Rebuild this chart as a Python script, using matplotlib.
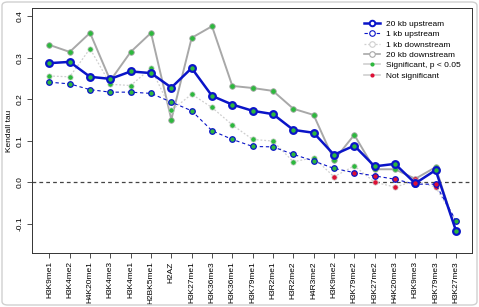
import matplotlib
matplotlib.use("Agg")
import matplotlib.pyplot as plt
from matplotlib.lines import Line2D
from matplotlib.patches import FancyBboxPatch
import numpy as np

plt.rcParams['font.family'] = ['Liberation Sans', 'DejaVu Sans']

categories = ["H3K9me1", "H3K4me2", "H4K20me1", "H3K4me3", "H3K4me1", "H2BK5me1",
              "H2AZ", "H3K27me1", "H3K36me3", "H3K36me1", "H3K79me1", "H3R2me1",
              "H3R2me2", "H4R3me2", "H3K9me2", "H3K79me2", "H3K27me2", "H4K20me3",
              "H3K9me3", "H3K79me3", "H3K27me3"]

up20 = [0.287, 0.290, 0.254, 0.249, 0.267, 0.263, 0.228, 0.275, 0.208, 0.187, 0.172,
        0.164, 0.126, 0.119, 0.066, 0.088, 0.038, 0.044, -0.003, 0.029, -0.117]
up1 = [0.241, 0.237, 0.223, 0.217, 0.217, 0.214, 0.193, 0.172, 0.124, 0.103, 0.086,
       0.085, 0.067, 0.051, 0.033, 0.023, 0.015, 0.007, -0.005, -0.005, -0.093]
down1 = [0.256, 0.254, 0.322, 0.236, 0.233, 0.275, 0.173, 0.212, 0.180, 0.138, 0.103,
         0.099, 0.049, 0.059, 0.013, 0.039, 0.000, -0.012, 0.003, -0.012, -0.093]
down20 = [0.331, 0.314, 0.360, 0.245, 0.314, 0.360, 0.151, 0.348, 0.376, 0.232, 0.227,
          0.220, 0.177, 0.162, 0.053, 0.114, 0.031, 0.031, 0.008, 0.036, -0.117]

sig_up20 = [1]*18 + [0, 1, 1]
sig_up1 = [1]*15 + [0, 0, 0, 0, 0, 1]
sig_down1 = [1]*14 + [0, 1, 0, 0, 0, 0, 1]
sig_down20 = [1]*18 + [0, 1, 1]

GREEN = '#2DB83D'
RED = '#DD1035'
BLUE = '#0A14C8'
GREY = '#A8A8A8'
LGREY = '#CFCFCF'

fig = plt.figure(figsize=(4.79, 3.07), dpi=100)
ax = fig.add_axes([32.3/479, 1-253/307, (472-32.3)/479, (253-8)/307])

x = np.arange(len(categories))

def draw(vals, sig, color, lw, ls, mec, ms, mew, z):
    ax.plot(x, vals, color=color, lw=lw, ls=ls, zorder=z)
    fc = [GREEN if s else RED for s in sig]
    for xi, v, f in zip(x, vals, fc):
        ax.plot(xi, v, 'o', ms=ms, mfc=f, mec=mec, mew=mew, zorder=z + 0.5)

draw(down20, sig_down20, GREY, 1.4, '-', GREY, 4.0, 0.6, 2)
draw(down1, sig_down1, LGREY, 0.9, (0, (1.5, 1.5)), LGREY, 3.8, 0.5, 3)
draw(up1, sig_up1, BLUE, 0.8, (0, (3, 2.5)), BLUE, 4.0, 0.9, 4)
draw(up20, sig_up20, BLUE, 1.8, '-', BLUE, 4.8, 1.6, 5)

ax.axhline(0, color='#444444', lw=0.9, ls=(0, (3, 2.5)), zorder=1)

ax.set_xlim(-0.84, 20.79)
ax.set_ylim(-0.171, 0.420)
ax.set_yticks([-0.1, 0.0, 0.1, 0.2, 0.3, 0.4])
ax.set_yticklabels(["-0.1", "0.0", "0.1", "0.2", "0.3", "0.4"], rotation=90, va='center')
ax.set_xticks(x)
ax.set_xticklabels(categories, rotation=90)
ax.tick_params(axis='both', labelsize=6, length=3.5, width=0.6, color='#333333', pad=2.5)
ax.set_ylabel("Kendall tau", fontsize=6, labelpad=3)
for s in ax.spines.values():
    s.set_linewidth(0.7)
    s.set_color('#333333')

handles = [
    Line2D([], [], color=BLUE, lw=1.8, marker='o', ms=4, mfc='white', mec=BLUE, mew=1.4),
    Line2D([], [], color=BLUE, lw=0.8, ls=(0, (3, 2.5)), marker='o', ms=4, mfc='white', mec=BLUE, mew=0.8),
    Line2D([], [], color=LGREY, lw=0.9, ls=(0, (1.5, 1.5)), marker='o', ms=4, mfc='white', mec=LGREY, mew=0.8),
    Line2D([], [], color=GREY, lw=1.2, marker='o', ms=4, mfc='white', mec=GREY, mew=0.8),
    Line2D([], [], color=LGREY, lw=1.2, marker='o', ms=3, mfc=GREEN, mec=GREEN, mew=0),
    Line2D([], [], color=LGREY, lw=1.2, marker='o', ms=3, mfc=RED, mec=RED, mew=0),
]
labels = ["20 kb upstream", "1 kb upstream", "1 kb downstream", "20 kb downstream",
          "Significant, p < 0.05", "Not significant"]
ax.legend(handles, labels, loc='upper left', bbox_to_anchor=(0.75, 0.957), frameon=False,
          fontsize=6, handlelength=1.9, handletextpad=0.8, labelspacing=0.3,
          borderaxespad=0, borderpad=0.2)

frame = FancyBboxPatch((2/479, 2/307), 475/479, 303/307, boxstyle="round,pad=0,rounding_size=0.012",
                       transform=fig.transFigure, fill=False, ec='#D0D0D0', lw=1.0)
fig.patches.append(frame)

fig.savefig("out.png", dpi=100)
